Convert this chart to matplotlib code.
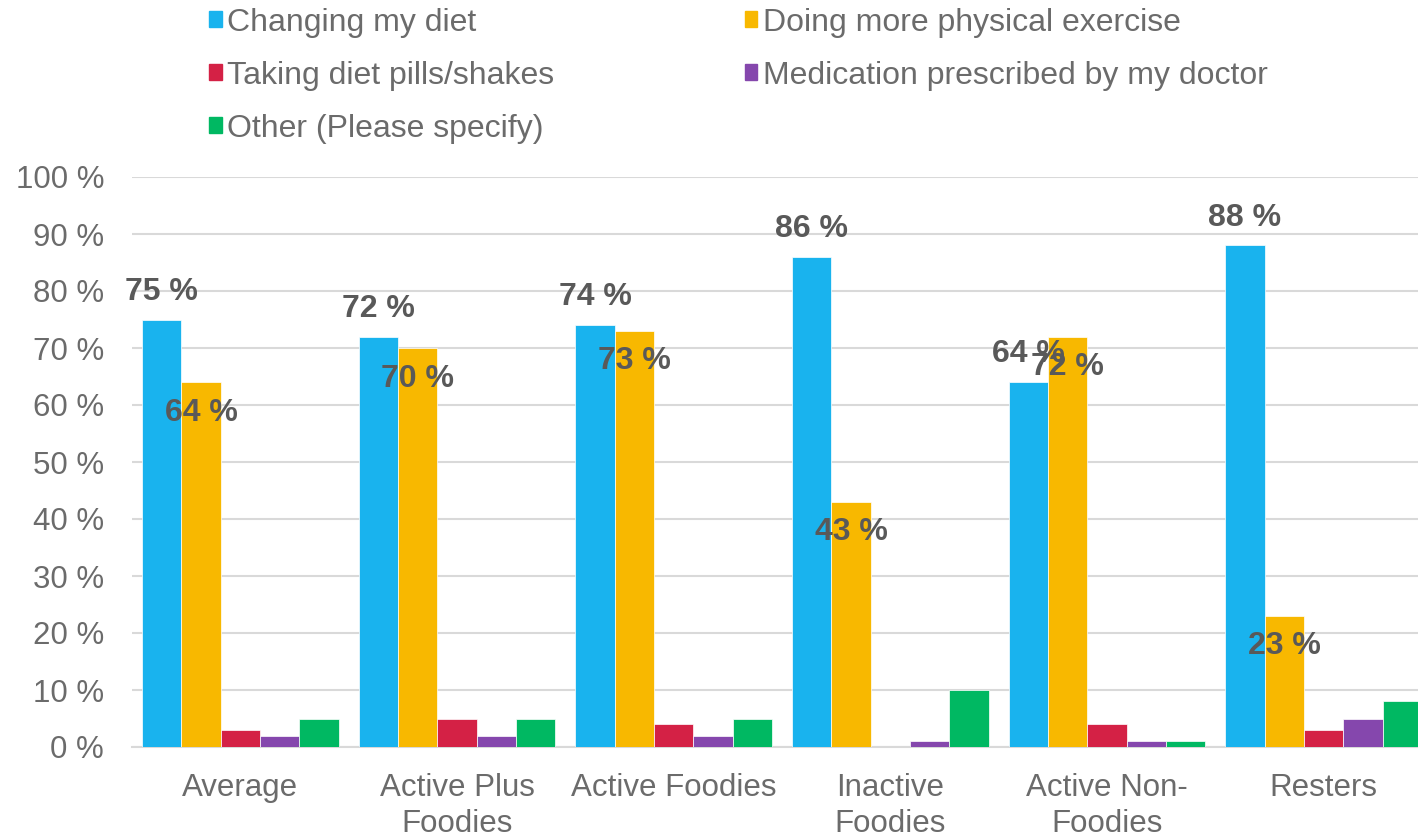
import numpy as np
import matplotlib
matplotlib.use("Agg")
import matplotlib.pyplot as plt
from matplotlib.patches import Rectangle

plt.rcParams['font.family'] = ['Liberation Sans', 'DejaVu Sans']

groups = ["Average", "Active Plus\nFoodies", "Active Foodies", "Inactive\nFoodies",
          "Active Non-\nFoodies", "Resters"]
series = ["Changing my diet", "Doing more physical exercise", "Taking diet pills/shakes",
          "Medication prescribed by my doctor", "Other (Please specify)"]
diet = [75, 72, 74, 86, 64, 88]
exercise = [64, 70, 73, 43, 72, 23]
pills = [3, 5, 4, 0, 4, 3]
medication = [2, 2, 2, 1, 1, 5]
other = [5, 5, 5, 10, 1, 8]
colors = ["#19B3EE", "#F8B800", "#D42145", "#8547AD", "#00B862"]

values = [diet, exercise, pills, medication, other]
grey = "#6B6B6B"
label_grey = "#595959"

fig = plt.figure(figsize=(14.18, 8.36), dpi=100)
ax = fig.add_axes([132 / 1418, 89 / 836, 1300 / 1418, 570 / 836])

x = np.arange(len(groups))
w = 0.1815
bars = []
for k, (vals, col) in enumerate(zip(values, colors)):
    b = ax.bar(x + (k - 2) * w, vals, w, color=col, edgecolor="white",
               linewidth=0.5, zorder=3, label=series[k])
    bars.append(b)

# value labels: outside end for diet, inside end for exercise
for rect, v in zip(bars[0], diet):
    ax.annotate(f"{v} %", (rect.get_x() + rect.get_width() / 2, v),
                xytext=(0, 20), textcoords="offset points", ha="center", va="center",
                fontsize=23, fontweight="bold", color=label_grey, zorder=5)
for rect, v in zip(bars[1], exercise):
    ax.annotate(f"{v} %", (rect.get_x() + rect.get_width() / 2, v),
                xytext=(0, -22), textcoords="offset points", ha="center", va="center",
                fontsize=23, fontweight="bold", color=label_grey, zorder=5)

ax.set_xlim(-0.5, len(groups) - 0.5)
ax.set_ylim(0, 100)
ax.set_yticks(np.arange(0, 101, 10))
ax.set_yticklabels([f"{t} %" for t in range(0, 101, 10)])
ax.set_xticks(x)
ax.set_xticklabels(groups, linespacing=1.25)
ax.tick_params(axis="both", length=0, labelsize=22.5, colors=grey)
ax.tick_params(axis="y", pad=20)
ax.tick_params(axis="x", pad=19)
ax.grid(axis="y", color="#D9D9D9", linewidth=1.5, zorder=0)
for s in ["top", "right", "left"]:
    ax.spines[s].set_visible(False)
ax.spines["bottom"].set_color("#D9D9D9")
ax.spines["bottom"].set_linewidth(1.5)

order = [0, 2, 4, 1, 3]
handles = [Rectangle((0, 0), 1, 1, color=colors[i]) for i in order]
fig.legend(handles, [series[i] for i in order], ncol=2, loc="upper left",
           bbox_to_anchor=(204 / 1418, 1 - 3 / 836), frameon=False, fontsize=23,
           labelcolor=grey, handlelength=0.4, handleheight=0.4, handletextpad=0.18,
           labelspacing=0.72, columnspacing=5.95, borderpad=0.15, borderaxespad=0)

fig.savefig("out.png", dpi=100)
